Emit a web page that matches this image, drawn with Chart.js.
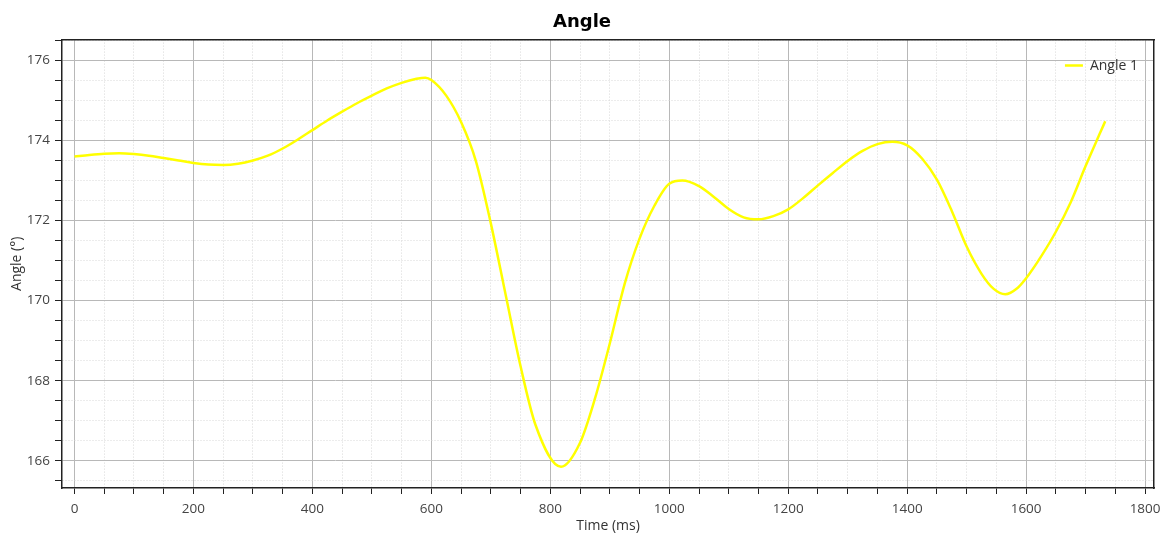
<!DOCTYPE html>
<html>
<head>
<meta charset="utf-8">
<title>Angle</title>
<script src="https://cdn.jsdelivr.net/npm/chart.js@4"></script>
<style>
  html, body { margin: 0; padding: 0; background: #fff; }
  #box { width: 1161px; height: 533px; }
</style>
</head>
<body>
<div id="box"><canvas id="chart"></canvas></div>
<script>
// valores (cada 25 ms, mas los extremos)
const timeMs = [0, 25, 50, 75, 100, 125, 150, 175, 200, 225, 250, 275, 300, 325, 350, 375,
  400, 425, 450, 475, 500, 525, 550, 575, 590, 600, 625, 650, 675, 700, 725, 750, 775,
  818, 850, 875, 900, 925, 950, 975, 1000, 1022, 1050, 1075, 1100, 1125, 1150, 1175, 1200,
  1225, 1250, 1275, 1300, 1325, 1350, 1375, 1400, 1425, 1450, 1475, 1500, 1525, 1545, 1565,
  1585, 1600, 1625, 1650, 1675, 1700, 1725, 1733];
const angleDeg = [173.60, 173.64, 173.67, 173.68, 173.66, 173.62, 173.56, 173.50, 173.44,
  173.40, 173.39, 173.42, 173.50, 173.62, 173.80, 174.02, 174.26, 174.50, 174.72, 174.93,
  175.12, 175.30, 175.44, 175.54, 175.57, 175.51, 175.12, 174.46, 173.48, 171.93, 170.14,
  168.36, 166.90, 165.85, 166.45, 167.55, 168.93, 170.42, 171.55, 172.37, 172.92,
  173.00, 172.86, 172.59, 172.29, 172.08, 172.03, 172.11, 172.28, 172.56, 172.88, 173.19,
  173.49, 173.74, 173.91, 173.97, 173.88, 173.55, 173.02, 172.24, 171.35, 170.67, 170.30,
  170.16, 170.31, 170.56, 171.10, 171.72, 172.46, 173.36, 174.21, 174.48];
const xMajor = 200, xMinor = 50;
const yMajor = 2, yMinor = 0.5;

const fuente = "'Open Sans', 'Noto Sans', sans-serif";
const puntos = timeMs.map((t, i) => ({ x: t, y: angleDeg[i] }));

function esMayor(v, paso) {
  return Math.abs(v / paso - Math.round(v / paso)) < 1e-6;
}

// la leyenda va dentro del area, arriba a la derecha
const moverLeyenda = {
  id: "moverLeyenda",
  afterLayout(chart) {
    const l = chart.legend;
    const a = chart.chartArea;
    l.left = a.right - l.width - 6;
    l.right = a.right - 6;
    l.top = a.top + 1;
  }
};

const data = {
  datasets: [{
    label: "Angle 1",
    data: puntos,
    borderColor: "#ffff00",
    backgroundColor: "#ffff00",
    borderWidth: 2.5,
    pointRadius: 0,
    cubicInterpolationMode: "monotone"
  }]
};

const config = {
  type: "line",
  data,
  options: {
    responsive: true,
    maintainAspectRatio: false,
    animation: false,
    layout: { padding: { left: 10, right: 7, top: 0, bottom: 0 } },
    plugins: {
      title: {
        display: true,
        text: "Angle",
        color: "#000",
        font: { family: "'DejaVu Sans', sans-serif", size: 18, weight: "bold" },
        padding: { top: 12, bottom: 6 }
      },
      legend: {
        position: "chartArea",
        align: "start",
        labels: {
          usePointStyle: true,
          pointStyle: "line",
          pointStyleWidth: 18,
          padding: 18,
          color: "#333",
          font: { family: fuente, size: 14 }
        }
      },
      tooltip: { enabled: false }
    },
    scales: {
      x: {
        type: "linear",
        min: -21,
        max: 1815,
        afterFit: s => { s.height = 45; s.paddingLeft = 0; s.paddingRight = 0; },
        title: {
          display: true,
          text: "Time (ms)",
          color: "#333",
          font: { family: fuente, size: 14, lineHeight: 1 },
          padding: { top: 0, bottom: 0 }
        },
        ticks: {
          stepSize: xMinor,
          includeBounds: false,
          autoSkip: false,
          maxRotation: 0,
          color: "#444",
          font: { family: fuente, size: 13.5 },
          padding: 7,
          callback: v => esMayor(v, xMajor) ? String(v) : ""
        },
        grid: {
          color: c => esMayor(c.tick.value, xMajor) ? "#b8b8b8" : "#d8d8d8",
          tickColor: "#222",
          tickLength: 6,
          lineWidth: 1
        },
        border: {
          color: "#222",
          width: 1.5,
          dash: c => (c.tick && !esMayor(c.tick.value, xMajor)) ? [1, 2] : []
        }
      },
      xTop: {
        type: "linear",
        position: "top",
        min: -21,
        max: 1815,
        afterFit: s => { s.height = 0; s.paddingLeft = 0; s.paddingRight = 0; },
        ticks: { display: false },
        grid: { drawOnChartArea: false, drawTicks: false },
        border: { color: "#222", width: 1.5 }
      },
      y: {
        min: 165.32,
        max: 176.52,
        afterFit: s => { s.width = 52; s.paddingTop = 0; s.paddingBottom = 0; },
        title: {
          display: true,
          text: "Angle (°)",
          color: "#333",
          font: { family: fuente, size: 14, lineHeight: 1 },
          padding: { top: 0, bottom: 0 }
        },
        ticks: {
          stepSize: yMinor,
          includeBounds: false,
          autoSkip: false,
          color: "#444",
          font: { family: fuente, size: 13.5 },
          padding: 5,
          callback: v => esMayor(v, yMajor) ? String(Math.round(v)) : ""
        },
        grid: {
          color: c => esMayor(c.tick.value, yMajor) ? "#b8b8b8" : "#d8d8d8",
          tickColor: "#222",
          tickLength: 7,
          lineWidth: 1
        },
        border: {
          color: "#222",
          width: 1.5,
          dash: c => (c.tick && !esMayor(c.tick.value, yMajor)) ? [1, 2] : []
        }
      },
      yRight: {
        position: "right",
        min: 165.32,
        max: 176.52,
        afterFit: s => { s.width = 0; s.paddingTop = 0; s.paddingBottom = 0; },
        ticks: { display: false },
        grid: { drawOnChartArea: false, drawTicks: false },
        border: { color: "#222", width: 1.5 }
      }
    }
  },
  plugins: [moverLeyenda]
};

let chart1 = new Chart(document.getElementById("chart"), config);
</script>
</body>
</html>
